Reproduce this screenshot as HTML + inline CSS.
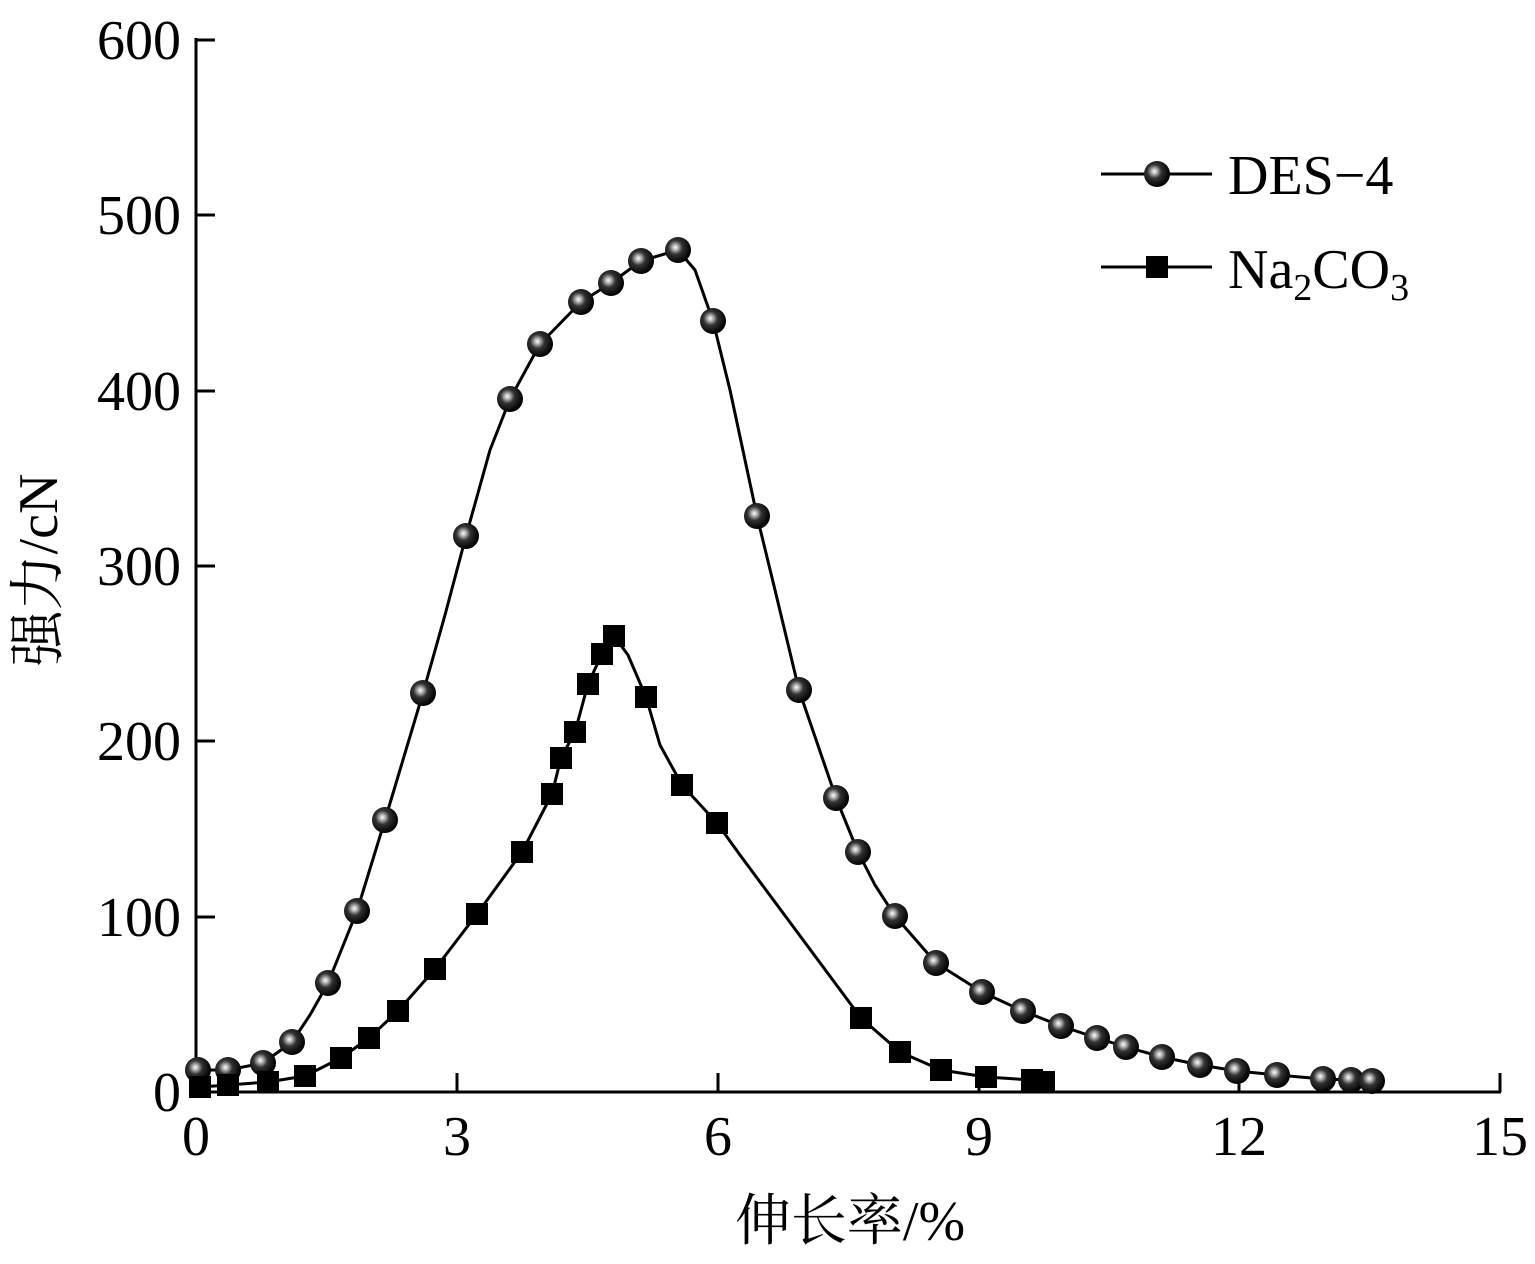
<!DOCTYPE html>
<html><head><meta charset="utf-8"><style>
body{margin:0;background:#fff;}
svg text{font-family:"Liberation Serif","Noto Serif CJK SC",serif;fill:#000;}
</style></head><body>
<svg width="1535" height="1259" viewBox="0 0 1535 1259" xmlns="http://www.w3.org/2000/svg">
<defs>
<radialGradient id="g" cx="0.4" cy="0.4" r="0.6">
<stop offset="0" stop-color="#fff"/><stop offset="0.2" stop-color="#aaa"/><stop offset="0.45" stop-color="#333"/><stop offset="1" stop-color="#000"/>
</radialGradient>
</defs>
<g stroke="#000" stroke-width="3" fill="none">
<line x1="196" y1="38" x2="196" y2="1093"/>
<line x1="195" y1="1092" x2="1501" y2="1092"/>
<line x1="196" y1="40" x2="215" y2="40"/>
<line x1="196" y1="215" x2="215" y2="215"/>
<line x1="196" y1="391" x2="215" y2="391"/>
<line x1="196" y1="566" x2="215" y2="566"/>
<line x1="196" y1="741" x2="215" y2="741"/>
<line x1="196" y1="917" x2="215" y2="917"/>
<line x1="457" y1="1092" x2="457" y2="1073"/>
<line x1="718" y1="1092" x2="718" y2="1073"/>
<line x1="979" y1="1092" x2="979" y2="1073"/>
<line x1="1239" y1="1092" x2="1239" y2="1073"/>
<line x1="1500" y1="1092" x2="1500" y2="1073"/>
</g>
<g font-size="56" text-anchor="end">
<text x="181" y="59">600</text><text x="181" y="234">500</text><text x="181" y="410">400</text>
<text x="181" y="585">300</text><text x="181" y="760">200</text><text x="181" y="936">100</text><text x="181" y="1111">0</text>
</g>
<g font-size="56" text-anchor="middle">
<text x="196" y="1155">0</text><text x="457" y="1155">3</text><text x="718" y="1155">6</text>
<text x="979" y="1155">9</text><text x="1239" y="1155">12</text><text x="1500" y="1155">15</text>
</g>
<text x="850" y="1240" font-size="56" text-anchor="middle">伸长率/%</text>
<text transform="translate(57,570) rotate(-90)" font-size="56" text-anchor="middle">强力/cN</text>
<g stroke="#000" stroke-width="3" fill="none" stroke-linejoin="round">
<polyline points="198,1070 228,1070 263,1063 292,1042 310,1015 328,983 357,911 385,820 423,693 445,615 466,536 490,450 510,399 540,344 581,302 611,283 641,261 678,250 695,270 713,321 730,390 757,516 775,590 799,690 836,798 858,852 875,885 895,916 936,963 982,992 1023,1011 1061,1026 1097,1038 1126,1047 1162,1057 1200,1065 1237,1071 1277,1075 1323,1079 1351,1080 1372,1081"/>
<polyline points="200,1087 228,1085 268,1082 305,1076 341,1058 369,1038 398,1011 435,969 477,914 522,852 552,794 561,758 575,732 588,684 602,654 614,636 628,655 646,697 660,745 682,785 717,823 740,855 861,1018 900,1052 941,1070 986,1077 1032,1080 1044,1082"/>
<line x1="1101" y1="174" x2="1212" y2="174"/>
<line x1="1101" y1="267" x2="1212" y2="267"/>
</g>
<g fill="url(#g)">
<circle cx="198" cy="1070" r="13"/><circle cx="228" cy="1070" r="13"/><circle cx="263" cy="1063" r="13"/><circle cx="292" cy="1042" r="13"/><circle cx="328" cy="983" r="13"/><circle cx="357" cy="911" r="13"/><circle cx="385" cy="820" r="13"/><circle cx="423" cy="693" r="13"/><circle cx="466" cy="536" r="13"/><circle cx="510" cy="399" r="13"/><circle cx="540" cy="344" r="13"/><circle cx="581" cy="302" r="13"/><circle cx="611" cy="283" r="13"/><circle cx="641" cy="261" r="13"/><circle cx="678" cy="250" r="13"/><circle cx="713" cy="321" r="13"/><circle cx="757" cy="516" r="13"/><circle cx="799" cy="690" r="13"/><circle cx="836" cy="798" r="13"/><circle cx="858" cy="852" r="13"/><circle cx="895" cy="916" r="13"/><circle cx="936" cy="963" r="13"/><circle cx="982" cy="992" r="13"/><circle cx="1023" cy="1011" r="13"/><circle cx="1061" cy="1026" r="13"/><circle cx="1097" cy="1038" r="13"/><circle cx="1126" cy="1047" r="13"/><circle cx="1162" cy="1057" r="13"/><circle cx="1200" cy="1065" r="13"/><circle cx="1237" cy="1071" r="13"/><circle cx="1277" cy="1075" r="13"/><circle cx="1323" cy="1079" r="13"/><circle cx="1351" cy="1080" r="13"/><circle cx="1372" cy="1081" r="13"/>
<circle cx="1157" cy="174" r="13"/>
</g>
<g fill="#000">
<rect x="189" y="1076" width="22" height="22"/><rect x="217" y="1074" width="22" height="22"/><rect x="257" y="1071" width="22" height="22"/><rect x="294" y="1065" width="22" height="22"/><rect x="330" y="1047" width="22" height="22"/><rect x="358" y="1027" width="22" height="22"/><rect x="387" y="1000" width="22" height="22"/><rect x="424" y="958" width="22" height="22"/><rect x="466" y="903" width="22" height="22"/><rect x="511" y="841" width="22" height="22"/><rect x="541" y="783" width="22" height="22"/><rect x="550" y="747" width="22" height="22"/><rect x="564" y="721" width="22" height="22"/><rect x="577" y="673" width="22" height="22"/><rect x="591" y="643" width="22" height="22"/><rect x="603" y="625" width="22" height="22"/><rect x="635" y="686" width="22" height="22"/><rect x="671" y="774" width="22" height="22"/><rect x="706" y="812" width="22" height="22"/><rect x="850" y="1007" width="22" height="22"/><rect x="889" y="1041" width="22" height="22"/><rect x="930" y="1059" width="22" height="22"/><rect x="975" y="1066" width="22" height="22"/><rect x="1021" y="1069" width="22" height="22"/><rect x="1033" y="1071" width="22" height="22"/>
<rect x="1146" y="256" width="22" height="22"/>
</g>
<text x="1228" y="194" font-size="56">DES−4</text>
<text x="1228" y="288" font-size="56">Na<tspan font-size="38" dy="12">2</tspan><tspan dy="-12">CO</tspan><tspan font-size="38" dy="12">3</tspan></text>
</svg>
</body></html>
